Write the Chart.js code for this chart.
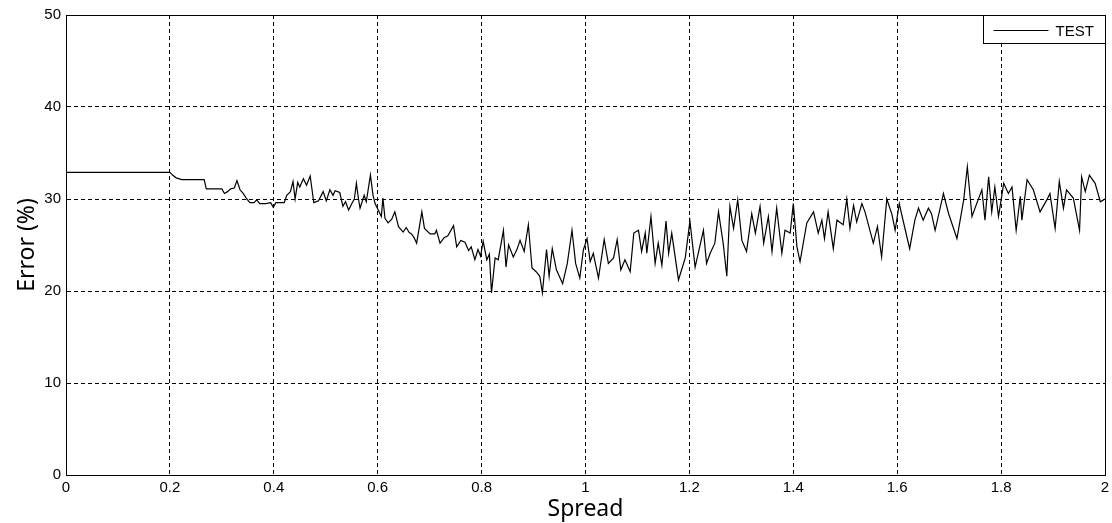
<!DOCTYPE html>
<html>
<head>
<meta charset="utf-8">
<title>Error vs Spread</title>
<script src="https://cdn.jsdelivr.net/npm/chart.js@4.4.1/dist/chart.umd.min.js"></script>
<style>
  html, body { margin: 0; padding: 0; background: #fff; }
  #errChart { display: block; }
</style>
</head>
<body>
<canvas id="errChart" width="1112" height="523"></canvas>
<script>
// values
const spreadX = [
  0, 0.2, 0.205, 0.212, 0.223, 0.266, 0.270, 0.300, 0.305, 0.311, 0.317, 0.324, 0.329, 0.335, 0.341, 0.348,
  0.354, 0.362, 0.367, 0.373, 0.384, 0.394, 0.399, 0.404, 0.420,
  0.425, 0.432, 0.437, 0.441, 0.446, 0.450, 0.457, 0.463, 0.470, 0.477, 0.486, 0.495, 0.501, 0.508, 0.514,
  0.518, 0.527, 0.533, 0.538, 0.544, 0.551, 0.555, 0.559, 0.563, 0.566, 0.574, 0.578, 0.586, 0.591, 0.595,
  0.601, 0.607, 0.610, 0.614, 0.620, 0.627, 0.633, 0.640, 0.649, 0.655, 0.660, 0.665, 0.670, 0.675, 0.685,
  0.690, 0.701, 0.710, 0.713, 0.720, 0.728, 0.735, 0.746, 0.752, 0.760, 0.768, 0.775, 0.780, 0.787, 0.793,
  0.798, 0.803, 0.810, 0.815, 0.819, 0.826, 0.832, 0.842, 0.847, 0.852, 0.861, 0.868, 0.874, 0.882, 0.890,
  0.897, 0.905, 0.912, 0.917, 0.925, 0.930, 0.936, 0.944, 0.956, 0.965, 0.974, 0.981, 0.989, 0.996, 1.003,
  1.009, 1.015, 1.025, 1.036, 1.044, 1.054, 1.061, 1.068, 1.076, 1.086, 1.093, 1.102, 1.108, 1.115, 1.118,
  1.126, 1.134, 1.140, 1.147, 1.155, 1.160, 1.166, 1.179, 1.192, 1.201, 1.211, 1.227, 1.233, 1.240, 1.249,
  1.256, 1.265, 1.272, 1.278, 1.285, 1.293, 1.301, 1.310, 1.320, 1.327, 1.336, 1.343, 1.352, 1.359, 1.368,
  1.378, 1.384, 1.394, 1.400, 1.407, 1.413, 1.426, 1.439, 1.448, 1.455, 1.460, 1.467, 1.477, 1.484, 1.496,
  1.503, 1.509, 1.516, 1.522, 1.532, 1.538, 1.554, 1.562, 1.570, 1.580, 1.590, 1.596, 1.604, 1.612, 1.624,
  1.634, 1.641, 1.650, 1.660, 1.666, 1.673, 1.689, 1.699, 1.715, 1.728, 1.735, 1.744, 1.753, 1.763, 1.769,
  1.776, 1.782, 1.788, 1.795, 1.805, 1.814, 1.821, 1.829, 1.837, 1.840, 1.850, 1.862, 1.875, 1.888, 1.894,
  1.904, 1.912, 1.920, 1.926, 1.939, 1.951, 1.955, 1.962, 1.970, 1.981, 1.991, 2.0
];
const errorY = [
  32.9, 32.9, 32.6, 32.3, 32.1, 32.1, 31.1, 31.1, 30.6, 30.8, 31.1, 31.2, 32.0, 31.0, 30.6, 30.0,
  29.6, 29.6, 29.9, 29.5, 29.5, 29.6, 29.1, 29.6, 29.6,
  30.4, 30.8, 31.9, 30.0, 31.8, 31.3, 32.2, 31.5, 32.5, 29.6, 29.8, 30.8, 29.8, 31.0, 30.4,
  30.9, 30.7, 29.2, 29.7, 28.8, 29.6, 30.0, 31.7, 30.0, 29.0, 30.4, 29.7, 32.6, 30.4, 29.5,
  28.8, 28.1, 30.1, 27.9, 27.4, 27.8, 28.6, 27.0, 26.4, 26.9, 26.4, 26.2, 25.8, 25.2, 28.6,
  26.8, 26.2, 26.2, 26.6, 25.2, 25.8, 26.0, 27.1, 24.8, 25.5, 25.3, 24.4, 24.8, 23.4, 24.5,
  23.8, 25.4, 23.4, 24.0, 19.8, 23.6, 23.4, 26.6, 22.6, 25.0, 23.7, 24.5, 25.5, 24.3, 27.2,
  22.5, 22.1, 21.6, 19.8, 24.5, 21.6, 24.6, 22.3, 20.8, 23.0, 26.6, 23.0, 21.4, 24.5, 25.7,
  23.2, 24.1, 21.4, 25.6, 23.0, 23.6, 25.6, 22.3, 23.4, 22.1, 26.3, 26.6, 24.3, 26.3, 24.1,
  28.1, 23.0, 25.2, 22.8, 27.6, 24.1, 26.3, 21.2, 23.6, 27.6, 22.6, 26.6, 23.0, 24.1, 25.2,
  28.6, 25.2, 21.6, 29.2, 26.8, 29.9, 25.5, 24.3, 28.4, 26.3, 29.2, 25.2, 28.1, 24.3, 29.0,
  24.1, 26.6, 26.3, 29.5, 24.8, 23.2, 27.4, 28.6, 26.3, 27.7, 25.7, 28.6, 24.6, 27.7, 27.2,
  30.0, 26.8, 29.3, 27.5, 29.5, 28.6, 25.2, 27.0, 23.7, 30.0, 28.3, 26.6, 29.5, 27.5, 24.6,
  27.7, 29.0, 27.7, 29.0, 28.4, 26.6, 30.6, 28.4, 25.7, 29.9, 33.5, 28.1, 29.5, 31.0, 27.7,
  32.4, 28.6, 31.3, 28.1, 31.7, 30.6, 31.3, 26.6, 30.3, 27.7, 32.1, 31.0, 28.6, 29.9, 30.6,
  26.8, 31.9, 29.0, 31.0, 30.1, 26.6, 32.4, 30.8, 32.6, 31.7, 29.7, 30.0
];
const seriesName = 'TEST';
const xTitle = 'Spread';
const yTitle = 'Error (%)';

const tickFont = { family: '"Liberation Sans", Arial, sans-serif', size: 15 };
const titleFont = { family: '"Noto Sans", "Open Sans", sans-serif', size: 23 };

// closed box around the plot area (MATLAB style)
const boxPlugin = {
  id: 'plotBox',
  afterDatasetsDraw(chart) {
    const { ctx, chartArea: a } = chart;
    ctx.save();
    ctx.strokeStyle = '#000';
    ctx.lineWidth = 1;
    ctx.strokeRect(Math.round(a.left) + 0.5, Math.round(a.top) + 0.5,
      Math.round(a.right - a.left), Math.round(a.bottom - a.top));
    ctx.restore();
  }
};

// legend box in the top-right corner of the plot area
const legendBoxPlugin = {
  id: 'legendBox',
  afterDraw(chart) {
    const { ctx, chartArea: a } = chart;
    const w = 122, h = 28;
    const x0 = Math.round(a.right) - w + 0.5;
    const y0 = Math.round(a.top) + 0.5;
    ctx.save();
    ctx.fillStyle = '#fff';
    ctx.fillRect(x0, y0, w, h);
    ctx.strokeStyle = '#000';
    ctx.lineWidth = 1;
    ctx.strokeRect(x0, y0, w, h);
    const ly = Math.round(y0 + h / 2) + 0.5;
    ctx.beginPath();
    ctx.moveTo(x0 + 10, ly);
    ctx.lineTo(x0 + 65, ly);
    ctx.stroke();
    ctx.fillStyle = '#000';
    ctx.font = '15px "Liberation Sans", Arial, sans-serif';
    ctx.textBaseline = 'middle';
    ctx.fillText(seriesName, x0 + 72, ly + 1);
    ctx.restore();
  }
};

const points = spreadX.map((x, i) => ({ x, y: errorY[i] }));

new Chart(document.getElementById('errChart').getContext('2d'), {
  type: 'line',
  data: {
    datasets: [{
      label: seriesName,
      data: points,
      borderColor: '#000',
      borderWidth: 1.2,
      pointRadius: 0,
      tension: 0,
      fill: false
    }]
  },
  options: {
    responsive: false,
    animation: false,
    layout: { padding: { top: 15, right: 7, left: 0, bottom: 0 } },
    plugins: {
      legend: { display: false },
      tooltip: { enabled: false }
    },
    scales: {
      x: {
        type: 'linear',
        min: 0,
        max: 2,
        ticks: {
          stepSize: 0.2,
          color: '#000',
          font: tickFont,
          padding: 4,
          maxRotation: 0,
          callback: v => String(Math.round(v * 10) / 10)
        },
        grid: { color: '#000', lineWidth: 1, drawTicks: false },
        border: { display: true, color: '#000', width: 1, dash: [4, 3] },
        title: { display: true, text: xTitle, color: '#000', font: titleFont, padding: { top: 0, bottom: 0 } },
        afterFit(scale) {
          scale.height = 48;
          scale.paddingLeft = 0;
          scale.paddingRight = 0;
        }
      },
      y: {
        min: 0,
        max: 50,
        ticks: { stepSize: 10, color: '#000', font: tickFont, padding: 5 },
        grid: { color: '#000', lineWidth: 1, drawTicks: false },
        border: { display: true, color: '#000', width: 1, dash: [4, 3] },
        title: { display: true, text: yTitle, color: '#000', font: titleFont, padding: { top: 14, bottom: 0 } },
        afterFit(scale) { scale.width = 66; }
      }
    }
  },
  plugins: [boxPlugin, legendBoxPlugin]
});
</script>
</body>
</html>
